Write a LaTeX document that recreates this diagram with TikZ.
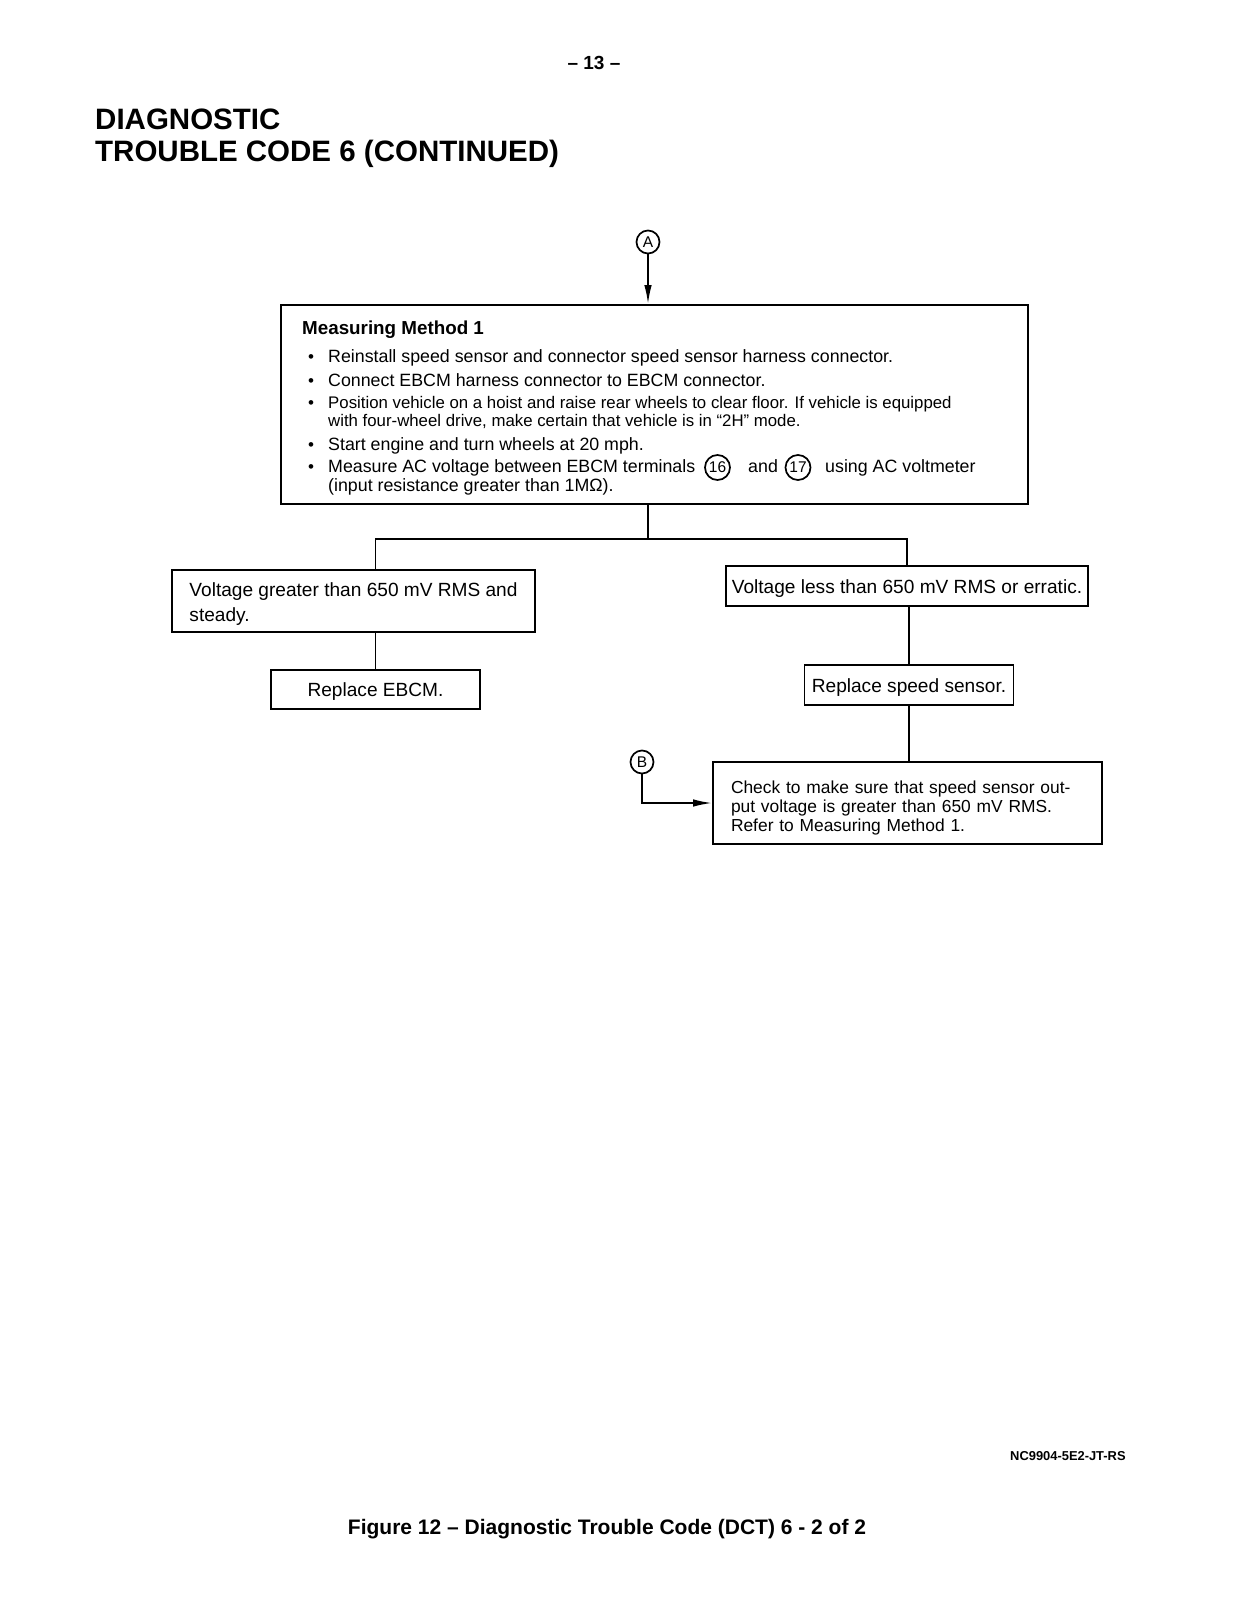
\documentclass[tikz,border=0pt]{standalone}
\usepackage{fontspec}
\setmainfont{Liberation Sans}
\usetikzlibrary{arrows.meta}
\newcommand\liftup[1]{\rule{0pt}{#1}}
\begin{document}
\begin{tikzpicture}[x=1pt,y=-1pt,
  box/.style={draw, line width=1.8pt, inner sep=0pt},
  conn/.style={line width=1.8pt},
  arr/.style={-{Latex[length=19pt,width=7.5pt]}},
  circ/.style={draw, circle, line width=1.7pt, minimum size=23pt, inner sep=0pt, font=\fontsize{15.5}{16}\selectfont},
  ncirc/.style={circ, minimum size=25pt, font=\fontsize{15.5}{16}\selectfont},
  mtxt/.style={anchor=base west, inner sep=0pt, font=\fontsize{17.8}{19}\selectfont},
  stxt/.style={mtxt, font=\fontsize{16.8}{19}\selectfont},
  btxt/.style={font=\fontsize{19.1}{25}\selectfont, align=left},
  bul/.style={anchor=base west, inner sep=0pt, font=\fontsize{17}{19}\selectfont}]
\useasboundingbox (0,0) rectangle (1232,1600);
\fill[white] (0,0) rectangle (1232,1600);

% headings
\node[anchor=base, inner sep=0pt, font=\bfseries\fontsize{19}{19}\selectfont] (pg) at (594,70) {– 13 –};
\node[anchor=base west, inner sep=0pt, font=\bfseries\fontsize{29.5}{30}\selectfont] (t1) at (95,130) {DIAGNOSTIC};
\node[anchor=base west, inner sep=0pt, font=\bfseries\fontsize{29.5}{30}\selectfont] (t2) at (95,161) {TROUBLE CODE 6 (CONTINUED)};

% connector A
\node[circ] (ca) at (648,242) {A};

% main box
\node[box, minimum width=747pt, minimum height=199pt] (mm) at (654.5,404.5) {};
\node[anchor=base west, inner sep=0pt, font=\bfseries\fontsize{18.8}{19}\selectfont] (mh) at (302,334) {Measuring Method 1};
\node[bul] (b1) at (308,362) {•};
\node[mtxt] (l1) at (328,362) {Reinstall speed sensor and connector speed sensor harness connector.};
\node[bul] (b2) at (308,386) {•};
\node[mtxt] (l2) at (328,386) {Connect EBCM harness connector to EBCM connector.};
\node[bul] (b3) at (308,408) {•};
\node[stxt] (l3) at (328,408) {Position vehicle on a hoist and raise rear wheels to clear floor. If vehicle is equipped};
\node[stxt] (l3b) at (328,426) {with four-wheel drive, make certain that vehicle is in “2H” mode.};
\node[bul] (b4) at (308,450) {•};
\node[mtxt] (l4) at (328,450) {Start engine and turn wheels at 20 mph.};
\node[bul] (b5) at (308,472) {•};
\node[mtxt] (l5) at (328,472) {Measure AC voltage between EBCM terminals};
\node[ncirc] (c16) at (717.5,467.5) {16};
\node[mtxt] (l5b) at (748,472) {and};
\node[ncirc] (c17) at (798,467.5) {17};
\node[mtxt] (l5c) at (825,472) {using AC voltmeter};
\node[mtxt] (l6) at (328,491) {(input resistance greater than 1MΩ).};

% result boxes
\node[box, btxt, minimum width=363pt, minimum height=62pt] (lb) at (353.5,601) {\liftup{19.7pt}Voltage greater than 650 mV RMS and\\steady.};
\node[box, btxt, minimum width=362pt, minimum height=40pt] (rb) at (907,586) {\liftup{19.7pt}Voltage less than 650 mV RMS or erratic.};
\node[box, btxt, minimum width=209pt, minimum height=39pt] (re) at (375.5,689.5) {\liftup{17.7pt}Replace EBCM.};
\node[box, btxt, minimum width=209pt, minimum height=40pt] (rs) at (909,685) {\liftup{19.7pt}Replace speed sensor.};
\node[box, draw, line width=1.8pt, inner xsep=18pt, inner ysep=0pt, text width=353pt, minimum height=82pt, align=left, font=\fontsize{17.4}{18.8}\selectfont] (ck) at (907.5,803) {\liftup{22.5pt}Check to make sure that speed sensor out-\\put voltage is greater than 650 mV RMS.\\Refer to Measuring Method 1.};

% connector B
\node[circ] (cb) at (642,762) {B};

% connectors
\coordinate (j) at (ca |- 0,539);
\draw[conn, arr] (ca.south) -- (ca |- mm.north);
\draw[conn] (ca |- mm.south) -- (j);
\draw[conn] (re.center |- lb.north) -- (re.center |- j) -- (rb.north |- j) -- (rb.north);
\draw[conn] (re.center |- lb.south) -- (re.north);
\draw[conn] (rs.center |- rb.south) -- (rs.north);
\draw[conn] (rs.south) -- (rs.south |- ck.north);
\draw[conn, arr] (cb.south) |- (ck.west);

% footer
\node[anchor=base west, inner sep=0pt, font=\bfseries\fontsize{12.9}{13}\selectfont] (nc) at (1010,1460) {NC9904-5E2-JT-RS};
\node[anchor=base, inner sep=0pt, font=\bfseries\fontsize{21}{21}\selectfont] (cap) at (607,1534) {Figure 12 – Diagnostic Trouble Code (DCT) 6 - 2 of 2};
\end{tikzpicture}
\end{document}
